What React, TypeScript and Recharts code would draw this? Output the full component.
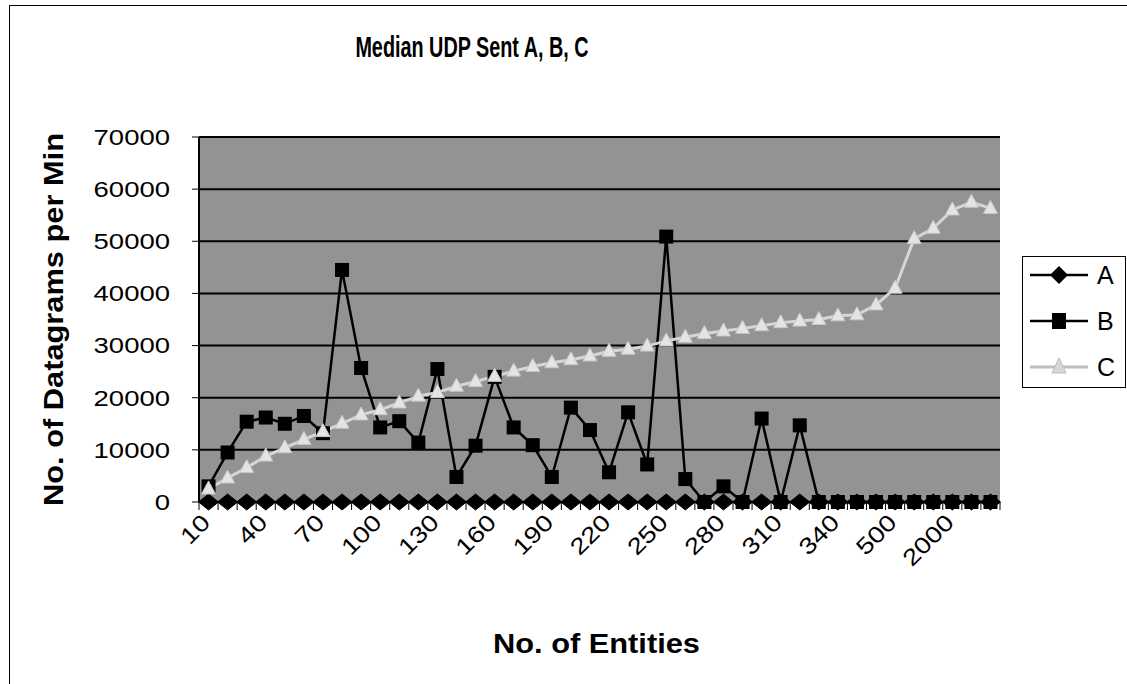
import React from 'react';
import { LineChart, Line, XAxis, YAxis, CartesianGrid, Legend, Label } from 'recharts';

const categories = [
  '10', '20', '30', '40', '50', '60', '70', '80', '90', '100',
  '110', '120', '130', '140', '150', '160', '170', '180', '190', '200',
  '210', '220', '230', '240', '250', '260', '270', '280', '290', '300',
  '310', '320', '330', '340', '350', '400', '500', '1000', '1500', '2000',
  '2500', '3000',
];

const seriesA = [
  0, 0, 0, 0, 0, 0, 0, 0, 0, 0,
  0, 0, 0, 0, 0, 0, 0, 0, 0, 0,
  0, 0, 0, 0, 0, 0, 0, 0, 0, 0,
  0, 0, 0, 0, 0, 0, 0, 0, 0, 0,
  0, 0,
];

const seriesB = [
  3000, 9500, 15400, 16200, 15000, 16500, 13200, 44500, 25700, 14300,
  15500, 11400, 25500, 4800, 10800, 24000, 14300, 10900, 4800, 18100,
  13800, 5700, 17200, 7200, 50900, 4400, 0, 3000, 0, 16000,
  0, 14700, 0, 0, 0, 0, 0, 0, 0, 0,
  0, 0,
];

const seriesC = [
  2500, 4600, 6600, 8800, 10400, 12000, 13500, 15100, 16700, 17700,
  19000, 20300, 21000, 22200, 23100, 24100, 25100, 26000, 26700, 27300,
  28000, 28900, 29300, 29900, 30900, 31600, 32300, 32800, 33300, 33800,
  34400, 34700, 35000, 35700, 35900, 37800, 41000, 50500, 52500, 56000,
  57500, 56300,
];

const yTicks = [0, 10000, 20000, 30000, 40000, 50000, 60000, 70000];
const xLabelEvery = 3;

const data = categories.map((c, i) => ({
  name: c,
  A: seriesA[i],
  B: seriesB[i],
  C: seriesC[i],
}));

const W = 1127;
const H = 684;
const MARGIN = { top: 137, right: 127, bottom: 22, left: 30 };
const Y_AXIS_W = 169;
const X_AXIS_H = 160;
const PLOT_W = W - MARGIN.left - MARGIN.right - Y_AXIS_W;
const STEP = PLOT_W / categories.length;

const FONT = '"Liberation Sans", Arial, Helvetica, sans-serif';

const XTick = (props: any) => {
  const { x, y, payload, index } = props;
  const i = payload && typeof payload.index === 'number' ? payload.index : index;
  const showLabel = i % xLabelEvery === 0;
  return (
    <g>
      <line x1={x + STEP / 2} x2={x + STEP / 2} y1={y - 8} y2={y} stroke="#000" strokeWidth={1} />
      {i === 0 && <line x1={x - STEP / 2} x2={x - STEP / 2} y1={y - 8} y2={y} stroke="#000" strokeWidth={1} />}
      {showLabel && (
        <text
          transform={`translate(${x + 3},${y + 14}) rotate(-45) scale(1.2,1)`}
          textAnchor="end"
          fontFamily={FONT}
          fontSize={23}
          fill="#000"
        >
          {payload.value}
        </text>
      )}
    </g>
  );
};

const YTick = (props: any) => {
  const { x, y, payload } = props;
  return (
    <text
      transform={`translate(${x},${y}) scale(1.25,1)`}
      textAnchor="end"
      dy="0.36em"
      fontFamily={FONT}
      fontSize={22}
      fill="#000"
    >
      {payload.value}
    </text>
  );
};

const Diamond = (p: any) => {
  const { cx, cy } = p;
  if (cx == null || cy == null) return <g />;
  return (
    <polygon
      points={`${cx},${cy - 8} ${cx + 10},${cy} ${cx},${cy + 8} ${cx - 10},${cy}`}
      fill="#000"
      stroke="#000"
    />
  );
};

const Square = (p: any) => {
  const { cx, cy } = p;
  if (cx == null || cy == null) return <g />;
  return <rect x={cx - 7} y={cy - 7} width={14} height={14} fill="#000" />;
};

const Triangle = (p: any) => {
  const { cx, cy } = p;
  if (cx == null || cy == null) return <g />;
  return (
    <polygon
      points={`${cx},${cy - 8} ${cx + 7},${cy + 5} ${cx - 7},${cy + 5}`}
      fill="#e4e4e4"
      stroke="#c8c8c8"
      strokeWidth={1}
    />
  );
};

const legendItems = [
  { key: 'A', kind: 'diamond' },
  { key: 'B', kind: 'square' },
  { key: 'C', kind: 'triangle' },
];

const LegendBox = () => (
  <div
    style={{
      width: 104,
      height: 132,
      border: '1px solid #000',
      background: '#fff',
      boxSizing: 'border-box',
    }}
  >
    <svg width={102} height={130}>
      {legendItems.map((it, i) => {
        const cy = 18 + i * 46;
        const cx = 36;
        return (
          <g key={it.key}>
            <line
              x1={7}
              x2={65}
              y1={cy}
              y2={cy}
              stroke={it.kind === 'triangle' ? '#bdbdbd' : '#000'}
              strokeWidth={it.kind === 'triangle' ? 3 : 2.5}
            />
            {it.kind === 'diamond' && (
              <polygon points={`${cx},${cy - 9} ${cx + 9},${cy} ${cx},${cy + 9} ${cx - 9},${cy}`} fill="#000" />
            )}
            {it.kind === 'square' && <rect x={cx - 7} y={cy - 8} width={14} height={16} fill="#000" />}
            {it.kind === 'triangle' && (
              <polygon points={`${cx},${cy - 9} ${cx + 7},${cy + 6} ${cx - 7},${cy + 6}`} fill="#d8d8d8" stroke="#bbb" />
            )}
            <text x={74} y={cy} dy="0.36em" fontFamily={FONT} fontSize={25} fill="#000">
              {it.key}
            </text>
          </g>
        );
      })}
    </svg>
  </div>
);

const XTitle = (props: any) => {
  const vb = props.viewBox || {};
  const cx = vb.x + vb.width / 2 - 3;
  const cy = vb.y + 141;
  return (
    <text
      transform={`translate(${cx},${cy}) scale(1.1,1)`}
      textAnchor="middle"
      dominantBaseline="central"
      fontFamily={FONT}
      fontWeight="bold"
      fontSize={28}
      fill="#000"
    >
      No. of Entities
    </text>
  );
};

const YTitle = (props: any) => {
  const vb = props.viewBox || {};
  const cx = vb.x + 23;
  const cy = vb.y + vb.height / 2;
  return (
    <text
      transform={`translate(${cx},${cy}) rotate(-90) scale(1.1,1)`}
      textAnchor="middle"
      dominantBaseline="central"
      fontFamily={FONT}
      fontWeight="bold"
      fontSize={28}
      fill="#000"
    >
      No. of Datagrams per Min
    </text>
  );
};

export default function App() {
  return (
    <div
      style={{
        position: 'absolute',
        left: 0,
        top: 0,
        width: W,
        height: H,
        overflow: 'hidden',
        background: '#fff',
        fontFamily: FONT,
      }}
    >
      <div
        style={{
          position: 'absolute',
          left: 9,
          top: 5,
          width: W,
          height: H,
          borderLeft: '1px solid #000',
          borderTop: '1px solid #000',
        }}
      />
      <div
        style={{
          position: 'absolute',
          left: 0,
          width: 944,
          top: 28,
          height: 38,
          lineHeight: '38px',
          textAlign: 'center',
          fontSize: 30,
          fontWeight: 'bold',
          color: '#000',
          transform: 'scaleX(0.66)',
          transformOrigin: '472px 50%',
          whiteSpace: 'nowrap',
        }}
      >
        Median UDP Sent A, B, C
      </div>
      <LineChart width={W} height={H} data={data} margin={MARGIN} style={{ position: 'absolute', left: 0, top: 0 }}>
        <CartesianGrid vertical={false} horizontal={true} stroke="#000" strokeWidth={2} fill="#939393" fillOpacity={1} />
        <XAxis
          dataKey="name"
          height={X_AXIS_H}
          interval={0}
          padding={{ left: STEP / 2, right: STEP / 2 }}
          tick={<XTick />}
          tickLine={false}
          tickSize={8}
          tickMargin={0}
          axisLine={{ stroke: '#000', strokeWidth: 2 }}
        >
          <Label content={<XTitle />} />
        </XAxis>
        <YAxis
          width={Y_AXIS_W}
          domain={[0, 70000]}
          ticks={yTicks}
          interval={0}
          tick={<YTick />}
          tickSize={7}
          tickMargin={22}
          tickLine={{ stroke: '#000' }}
          axisLine={{ stroke: '#000', strokeWidth: 2 }}
        >
          <Label content={<YTitle />} />
        </YAxis>
        <YAxis
          yAxisId="frame"
          orientation="right"
          width={0}
          tick={false}
          tickLine={false}
          axisLine={{ stroke: '#000', strokeWidth: 2 }}
        />
        <Legend
          layout="horizontal"
          align="center"
          verticalAlign="middle"
          content={<LegendBox />}
          wrapperStyle={{ position: 'absolute', left: 1022, top: 256, width: 104, height: 132 }}
        />
        <Line
          dataKey="A"
          stroke="#000"
          strokeWidth={2}
          dot={<Diamond />}
          isAnimationActive={false}
        />
        <Line
          dataKey="B"
          stroke="#000"
          strokeWidth={2.5}
          dot={<Square />}
          isAnimationActive={false}
        />
        <Line
          dataKey="C"
          stroke="#d6d6d6"
          strokeWidth={3}
          dot={<Triangle />}
          isAnimationActive={false}
        />
      </LineChart>
    </div>
  );
}
